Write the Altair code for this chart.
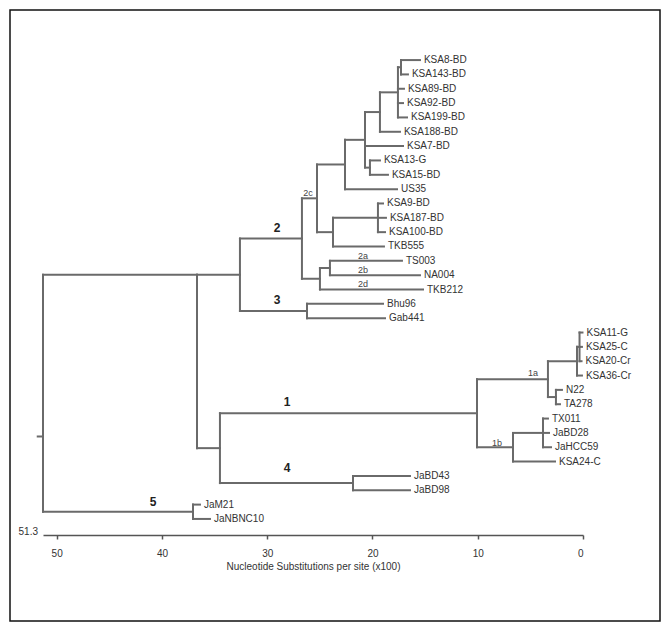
import altair as alt
import pandas as pd

# ---- data ----
leaf_names = ["KSA8-BD", "KSA143-BD", "KSA89-BD", "KSA92-BD", "KSA199-BD", "KSA188-BD",
              "KSA7-BD", "KSA13-G", "KSA15-BD", "US35", "KSA9-BD", "KSA187-BD",
              "KSA100-BD", "TKB555", "TS003", "NA004", "TKB212", "Bhu96", "Gab441",
              "KSA11-G", "KSA25-C", "KSA20-Cr", "KSA36-Cr", "N22", "TA278", "TX011",
              "JaBD28", "JaHCC59", "KSA24-C", "JaBD43", "JaBD98", "JaM21", "JaNBNC10"]
leaf_dist = [15.49, 16.63, 17.01, 17.10, 16.72, 17.39,
             17.10, 19.29, 18.53, 17.67, 19.00, 18.72,
             18.81, 18.91, 17.20, 15.49, 15.20, 19.00, 18.81,
             0.05, 0.10, 0.14, 0.10, 2.00, 2.19, 3.33,
             3.23, 3.04, 2.66, 16.44, 16.44, 36.39, 35.44]

node_names = ["n1", "n2", "n3", "n13", "n365", "n345", "n9", "n333", "n2c", "n2ab",
              "n2abd", "g2", "g3", "g23", "kc1", "kc", "nt", "g1a", "n1bs", "g1b",
              "g1", "g4", "g14", "A", "g5", "root"]
node_dist = [17.29, 17.58, 19.29, 20.24, 20.71, 22.61, 19.48, 23.75, 25.27, 24.04,
             24.99, 26.70, 26.22, 32.59, 0.33, 0.57, 2.57, 3.33, 3.80, 6.65,
             10.07, 21.85, 34.49, 36.67, 37.05, 51.30]
# where the stem of each node is drawn: "mid" (between first and last child) or "first"
node_anchor = ["mid"] * 23 + ["first", "mid", "mid"]
node_children = [
    ["KSA8-BD", "KSA143-BD"],
    ["n1", "KSA89-BD", "KSA92-BD", "KSA199-BD"],
    ["n2", "KSA188-BD"],
    ["KSA13-G", "KSA15-BD"],
    ["n3", "KSA7-BD", "n13"],
    ["n365", "US35"],
    ["KSA9-BD", "KSA187-BD", "KSA100-BD"],
    ["n9", "TKB555"],
    ["n345", "n333"],
    ["TS003", "NA004"],
    ["n2ab", "TKB212"],
    ["n2c", "n2abd"],
    ["Bhu96", "Gab441"],
    ["g2", "g3"],
    ["KSA11-G", "KSA25-C", "KSA20-Cr"],
    ["kc1", "KSA36-Cr"],
    ["N22", "TA278"],
    ["kc", "nt"],
    ["TX011", "JaBD28", "JaHCC59"],
    ["n1bs", "KSA24-C"],
    ["g1a", "g1b"],
    ["JaBD43", "JaBD98"],
    ["g1", "g4"],
    ["g23", "g14"],
    ["JaM21", "JaNBNC10"],
    ["A", "g5"],
]

clade_text = ["2", "3", "1", "4", "5"]
clade_x = [29.07, 29.07, 28.12, 28.12, 40.85]
clade_row = [11.72, 16.74, 23.85, 28.45, 30.82]

sub_text = ["2c", "2a", "2b", "2d", "1a", "1b"]
sub_x = [26.13, 20.9, 20.9, 20.9, 4.75, 8.17]
sub_row = [9.27, 13.67, 14.64, 15.62, 21.83, 26.71]

x_ticks = [0, 10, 20, 30, 40, 50]
x_max = 51.3
root_stub = [51.8, 51.3]
root_stub_row = 26.25

# ---- build segments from the tree ----
pos = {}
row = {}
for i, (n, d) in enumerate(zip(leaf_names, leaf_dist)):
    pos[n] = d
    row[n] = float(i)
for n, d, ch, a in zip(node_names, node_dist, node_children, node_anchor):
    pos[n] = d
    row[n] = row[ch[0]] if a == "first" else (row[ch[0]] + row[ch[-1]]) / 2.0

hseg = []
vseg = []
for n, ch in zip(node_names, node_children):
    vseg.append({"x": pos[n], "y": row[ch[0]], "y2": row[ch[-1]]})
    for c in ch:
        hseg.append({"x": pos[n], "x2": pos[c], "y": row[c]})
hseg.append({"x": root_stub[0], "x2": root_stub[1], "y": root_stub_row})

hdf = pd.DataFrame(hseg)
vdf = pd.DataFrame(vseg)
ldf = pd.DataFrame({"name": leaf_names, "x": leaf_dist, "y": [row[n] for n in leaf_names]})
cdf = pd.DataFrame({"t": clade_text, "x": clade_x, "y": clade_row})
sdf = pd.DataFrame({"t": sub_text, "x": sub_x, "y": sub_row})

W, H = 540, 495
xs = alt.Scale(domain=[0, x_max], reverse=True, nice=False, zero=False)
ys = alt.Scale(domain=[-1.4, 33.12], reverse=True, nice=False, zero=False)

line_col = "#6a6a6a"
font = "Liberation Sans"

xaxis = alt.Axis(values=x_ticks, title="Nucleotide Substitutions per site (x100)",
                 grid=False, domainColor="#555", domainWidth=1.5, tickColor="#555",
                 tickWidth=1.5, tickSize=4, labelFontSize=10, labelColor="#333",
                 labelPadding=9, titleFontSize=10, titleFontWeight="normal",
                 titleColor="#333", titlePadding=3, labelFont=font, titleFont=font)

horiz = alt.Chart(hdf).mark_rule(color=line_col, strokeWidth=2, strokeCap="square").encode(
    x=alt.X("x:Q", scale=xs, axis=xaxis),
    x2="x2:Q",
    y=alt.Y("y:Q", scale=ys, axis=None),
)
vert = alt.Chart(vdf).mark_rule(color=line_col, strokeWidth=2, strokeCap="square").encode(
    x=alt.X("x:Q", scale=xs),
    y=alt.Y("y:Q", scale=ys),
    y2="y2:Q",
)
labels = alt.Chart(ldf).mark_text(align="left", baseline="middle", dx=4, fontSize=10,
                                  color="#333", font=font).encode(
    x=alt.X("x:Q", scale=xs), y=alt.Y("y:Q", scale=ys), text="name:N")
clades = alt.Chart(cdf).mark_text(align="center", baseline="middle", fontSize=12,
                                  fontWeight="bold", color="#222", font=font).encode(
    x=alt.X("x:Q", scale=xs), y=alt.Y("y:Q", scale=ys), text="t:N")
subs = alt.Chart(sdf).mark_text(align="center", baseline="middle", fontSize=9,
                                color="#444", font=font).encode(
    x=alt.X("x:Q", scale=xs), y=alt.Y("y:Q", scale=ys), text="t:N")
maxlab = alt.Chart(pd.DataFrame({"v": [x_max], "t": [str(x_max)]})).mark_text(
    align="right", baseline="middle", dx=-5, dy=-3, fontSize=10, color="#333", font=font).encode(
    x=alt.X("v:Q", scale=xs), y=alt.value(H), text="t:N")
frame = alt.Chart(pd.DataFrame({"a": [0]})).mark_rect(
    fillOpacity=0, stroke="#111", strokeWidth=1.5).encode(
    x=alt.value(-33), x2=alt.value(617), y=alt.value(-30), y2=alt.value(581))

chart = alt.layer(frame, horiz, vert, labels, clades, subs, maxlab).properties(
    width=W, height=H,
    autosize=alt.AutoSizeParams(type="none"),
    padding={"left": 35, "top": 32, "right": 79, "bottom": 88},
    background="white",
).configure_view(stroke=None)

chart.save("out.html", embed_options={"renderer": "svg", "actions": False})
